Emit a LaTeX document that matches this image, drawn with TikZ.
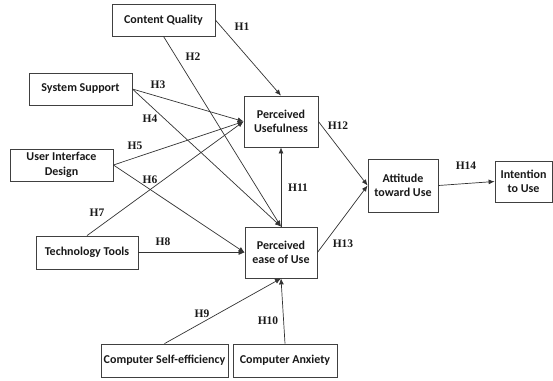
\documentclass[tikz,border=0pt]{standalone}
\usepackage{fontspec}
\setmainfont{Carlito}
\newfontfamily\labfont{Liberation Serif}
\usetikzlibrary{arrows.meta}
\begin{document}
\begin{tikzpicture}[x=1pt,y=-1pt,
  box/.style={draw=black!75,line width=0.8pt,align=center,inner sep=1pt,
    font=\fontsize{12}{14.5}\selectfont\bfseries,text=black!90},
  link/.style={draw=black!80,line width=0.7pt,-{Latex[length=6pt,width=5pt]}},
  hlab/.style={font=\labfont\fontsize{11.5}{12}\selectfont\bfseries,text=black!90,inner sep=0pt}]
\useasboundingbox (0,0) rectangle (553,380);
\node[box,minimum width=103pt,minimum height=32pt] (cq) at (163.5,20) {Content Quality};
\node[box,minimum width=103pt,minimum height=32pt] (ss) at (80.5,89) {System Support};
\node[box,minimum width=103pt,minimum height=32pt] (uid) at (61.5,165) {User Interface\\Design};
\node[box,minimum width=102pt,minimum height=33pt] (tt) at (87,252.5) {Technology Tools};
\node[box,minimum width=74pt,minimum height=51pt] (pu) at (281,121.5) {Perceived\\Usefulness};
\node[box,minimum width=72pt,minimum height=51pt] (peu) at (281,252.5) {Perceived\\ease of Use};
\node[box,minimum width=127pt,minimum height=33pt] (cse) at (164.5,360.5) {Computer Self-efficiency};
\node[box,minimum width=104pt,minimum height=33pt] (ca) at (285,360.5) {Computer Anxiety};
\node[box,minimum width=70pt,minimum height=53pt] (att) at (403,185.5) {Attitude\\toward Use};
\node[box,minimum width=57pt,minimum height=41pt] (itu) at (523.5,181.5) {Intention\\to Use};

\draw[link] (cq.east) -- (pu.north);
\draw[link] (cq.south) -- (peu.north);
\draw[link] (ss.east) -- (pu.west);
\draw[link] (ss.east) -- (peu.north);
\draw[link] (uid.east) -- (pu.west);
\draw[link] (uid.east) -- (peu.west);
\draw[link] (tt.north) -- (pu.west);
\draw[link] (tt.east) -- (peu.west);
\draw[link] (cse.north) -- (peu.south);
\draw[link] (ca.north) -- (peu.south);
\draw[link] (peu.north) -- (pu.south);
\draw[link] (pu.east) -- (att.west);
\draw[link] (peu.east) -- (att.west);
\draw[link] (att.east) -- (itu.west);

\node[hlab] (l1) at (242,27) {H1};
\node[hlab] (l2) at (193,57) {H2};
\node[hlab] (l3) at (158,85) {H3};
\node[hlab] (l4) at (150,119) {H4};
\node[hlab] (l5) at (135,146) {H5};
\node[hlab] (l6) at (150,180) {H6};
\node[hlab] (l7) at (97,213) {H7};
\node[hlab] (l8) at (163,242) {H8};
\node[hlab] (l9) at (202,314) {H9};
\node[hlab] (l10) at (268,321) {H10};
\node[hlab] (l11) at (298,188) {H11};
\node[hlab] (l12) at (338,126) {H12};
\node[hlab] (l13) at (343,244) {H13};
\node[hlab] (l14) at (466,166) {H14};
\end{tikzpicture}
\end{document}
